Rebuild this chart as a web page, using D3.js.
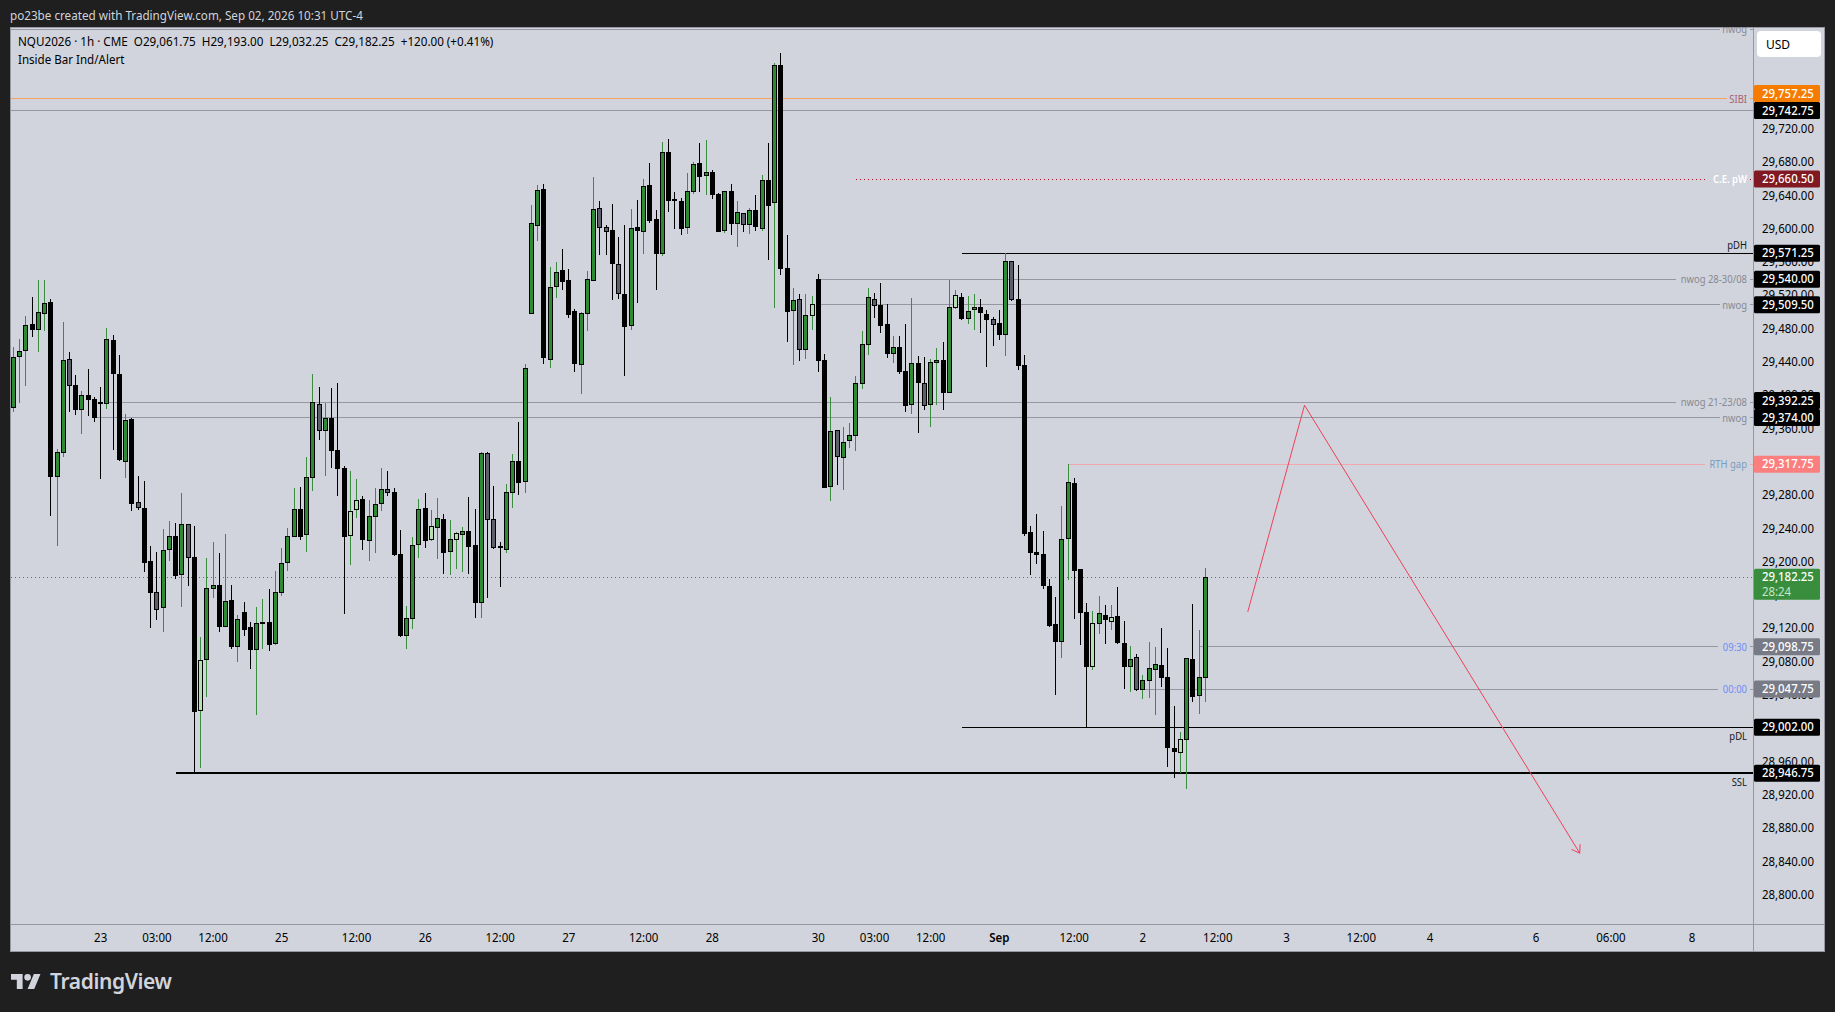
<!DOCTYPE html>
<html><head><meta charset="utf-8">
<script src="https://d3js.org/d3.v7.min.js"></script>
<style>html,body{margin:0;padding:0;background:#1f1f1f;overflow:hidden}svg{display:block}text{font-family:"Noto Sans",sans-serif}</style>
</head><body><svg id="c" width="1835" height="1012"></svg>
<script>
const title = "po23be created with TradingView.com, Sep 02, 2026 10:31 UTC-4";
const legend1 = "NQU2026 · 1h · CME  O29,061.75  H29,193.00  L29,032.25  C29,182.25  +120.00 (+0.41%)";
const legend2 = "Inside Bar Ind/Alert";
const opens = [29386.2,29447,29454.2,29485.8,29479.4,29499,29512.6,29303,29331.8,29443.8,29412.6,29383.4,29400.6,29395.8,29392.2,29390.6,29466.6,29425.8,29321,29372.2,29272.2,29265,29200.6,29164.2,29145.8,29215.4,29231.4,29185.4,29245.8,29206.2,29022.2,29083.4,29168.6,29171.8,29123,29153.8,29099,29140.2,29121.4,29095.4,29127.4,29127.4,29102.6,29163.8,29199.8,29231,29263.8,29233.4,29301.8,29389.8,29358.2,29373,29334.6,29313,29232.2,29263.8,29275.8,29226.2,29255,29270.6,29287.8,29284.2,29209.8,29112.2,29132.6,29221.4,29265,29227.4,29242.2,29251.8,29213,29227.8,29233.4,29237.4,29220.6,29151.8,29331,29251.8,29218.6,29215.4,29284.2,29321.4,29297,29498.6,29604.2,29647.8,29443.8,29531,29551,29538.6,29501.4,29437.8,29499,29538.2,29625,29602.2,29598.6,29557.8,29521.8,29484.2,29602.2,29597,29652.6,29611.8,29570.6,29692.2,29636.2,29633.4,29601.8,29645,29679,29664.2,29668.2,29642.2,29598.2,29645.4,29606.6,29619,29605.4,29622.6,29600.6,29658.6,29631.8,29796.6,29553,29502.2,29515.8,29455.4,29496.2,29539.8,29442.6,29291,29358.6,29325.8,29346.2,29352.2,29414.6,29461.4,29515.8,29508.6,29485.8,29450.6,29458.2,29429.4,29389.8,29439,29415,29389.8,29439.8,29442.6,29403.8,29505.8,29518.2,29493,29503.4,29506.2,29497.8,29491.8,29487,29473.4,29561.4,29515.8,29436.6,29236.2,29212.2,29209.8,29171.4,29125.8,29105,29228.6,29295,29191.8,29140.2,29075,29126.6,29136.6,29129.4,29135.4,29103,29075,29086.2,29047.4,29058.2,29071.4,29076.6,29062.2,28977,28971.8,28987.4,29083.8,29040.2,29061.75];
const highs = [29458.2,29468.2,29495.8,29518.6,29539,29539,29515.8,29335.8,29488.6,29452.6,29424.6,29405.8,29432.2,29398.6,29410.6,29481.4,29473,29449,29378.2,29373.4,29303.8,29297.8,29219.8,29212.6,29240.2,29249.8,29247.4,29283.4,29245.8,29243.8,29110.6,29205.4,29224.6,29211.4,29234.2,29173,29137,29152.2,29128.6,29146.6,29156.2,29168.2,29189.8,29217.4,29241.4,29289.4,29290.6,29326.6,29426.2,29410.6,29391.4,29409.4,29415.4,29315.8,29309.8,29300.2,29279.8,29275,29289.4,29313.4,29309.8,29289.4,29239,29147.8,29230.6,29276.2,29283.4,29263,29277.4,29258.2,29251,29236.6,29242.6,29278.6,29264.2,29332.6,29332.6,29291.8,29224.6,29294.2,29330.2,29368.6,29438.2,29629,29653,29655,29554.6,29560.6,29576.2,29552.2,29504.2,29500.6,29549.8,29662.6,29634.6,29605.8,29630.2,29590.6,29605,29624.2,29635,29660.2,29679.4,29623,29704.6,29708.2,29644.6,29637.4,29667.4,29680.6,29703.4,29707,29671,29644.2,29645.4,29654.2,29633.8,29620.2,29625.4,29641,29665,29703.4,29799.4,29811.4,29593,29529.4,29522.2,29522.2,29519.8,29546.2,29450.2,29398.6,29358.6,29362.6,29367.4,29423.8,29477.4,29529.4,29523.4,29535.4,29510.2,29471.8,29471.8,29486.2,29517.4,29447.8,29446.6,29444.2,29457.4,29464.6,29539,29527.8,29523.4,29519.8,29522.2,29516.2,29503,29494.2,29503,29571.4,29561.4,29557,29449,29243.4,29258.2,29237.8,29180.2,29158.6,29267.8,29318.2,29301.4,29191.8,29151.4,29141.8,29159.8,29149,29149,29170.6,29129.8,29099.8,29090.2,29065,29104.6,29098.6,29121.4,29097.4,29027.8,28996.2,29085,29150.2,29119,29193];
const lows = [29380.6,29391.8,29412.2,29470.6,29452.6,29477.8,29255.8,29219.8,29326.6,29380.6,29377,29354.2,29375.8,29368.6,29300.2,29384.2,29335,29321.8,29301.4,29261.8,29263,29188.6,29121.4,29131,29116.6,29201.8,29180.2,29146.6,29171.8,28946.75,28953.1,29038.6,29157.4,29116.6,29122.6,29096.2,29080.6,29111.8,29072.2,29017,29096.2,29093.8,29101,29159.8,29189.8,29231,29227,29212.6,29285.8,29347,29303.8,29313.4,29279.8,29138.2,29197,29253.4,29215,29201.8,29211.4,29261.8,29279.8,29207.8,29110.6,29096.2,29120.2,29205.4,29217.4,29225.8,29204.2,29186.2,29185,29192.2,29188.6,29186.2,29133.4,29133.4,29157.4,29216.2,29170.6,29211.4,29265.4,29281,29283.4,29498.6,29586.2,29438.2,29433.4,29517.4,29527,29493.8,29428.6,29402.2,29477.8,29538.2,29569,29569,29515,29516.2,29423.8,29479,29511.4,29570.2,29607.4,29527,29567.8,29620.6,29600.2,29593,29594.2,29642.2,29644.6,29641,29636.2,29598.2,29595.4,29593,29578.6,29596.6,29594.2,29597.8,29597.8,29563,29505.4,29545,29464.6,29437,29441.8,29444.2,29479,29428.6,29289.8,29273.8,29293,29287,29337.4,29333.8,29408.2,29449,29493.4,29475.4,29445.4,29439,29426.6,29380.6,29378.2,29355.4,29383,29362.6,29389,29383,29403.8,29504.2,29491,29486.2,29479,29475.4,29434.6,29459.8,29467,29447.8,29513.8,29431,29231.8,29185,29198.2,29168.2,29122.6,29041,29085.4,29179,29132.2,29101,29002.2,29071,29114.2,29102.2,29119,29102.2,29048.2,29044.6,29045.8,29036.2,29037.4,29017,29050.6,28954.6,28941.4,28947.4,28928.2,29032.6,29018.2,29032.25];
const closes = [29446.2,29453.4,29484.6,29479.4,29500.2,29511,29303,29332.2,29442.6,29412.2,29383.4,29400.6,29395.4,29373.8,29390.6,29467.8,29426.6,29323.4,29370.6,29271.8,29265.8,29199.8,29163.8,29143.4,29214.6,29231.4,29184.2,29245.8,29205.8,29021,29082.6,29169,29171.8,29122.6,29153.4,29098.6,29131.8,29120.2,29095,29127,29128.2,29101,29164.2,29199,29231.4,29263.8,29231,29302.2,29392.2,29358.2,29373,29334.2,29312.6,29231.8,29261.4,29274.6,29227.4,29255.4,29269.8,29287.8,29283.8,29210.2,29112.2,29133,29220.6,29263.8,29226.2,29243.4,29253,29211.8,29227.8,29235,29237.4,29219,29151.8,29331,29251.8,29217.8,29217.8,29284.2,29321.4,29295.8,29433,29607,29646.6,29445.8,29530.2,29548.2,29538.2,29497.4,29438.6,29499,29539.8,29623.8,29601.8,29597,29558.6,29522.6,29483,29601,29598.2,29651.4,29611,29570.6,29692.2,29635,29635.4,29600.6,29645.4,29677.8,29663,29668.2,29641.4,29598.2,29645.4,29606.6,29620.2,29605.4,29622.6,29603,29658.6,29628.2,29796.6,29552.6,29501,29514.6,29455.4,29496.6,29509.8,29442.2,29289.8,29357.4,29327,29344.2,29352.6,29415,29461.8,29518.2,29508.2,29484.2,29450.6,29458.2,29429,29388.2,29439,29415.8,29388.2,29440.2,29442.6,29403.8,29506.2,29520.6,29492.6,29501.4,29506.2,29499.8,29491.4,29485.4,29473.4,29561.4,29515.4,29436.2,29234.2,29211.8,29209.4,29172.2,29125,29105,29227.8,29296.2,29191,29139.8,29075,29127,29139,29131.4,29134.2,29103.8,29075,29083.8,29047.4,29058.6,29073,29077.8,29061.8,28977.8,28973,28987.8,29085,29039,29062.2,29182.25];
const insideBars = [9,20,23,28,30,49,54,55,60,67,71,76,77,94,95,97,117,126,128,132,138,146,151,157,160,173,176,180,187];
const priceTicks = [29720,29680,29640,29600,29560,29520,29480,29440,29400,29360,29320,29280,29240,29200,29160,29120,29080,29040,29000,28960,28920,28880,28840,28800];
const timeTickBars = [14,23,32,43,55,66,78,89,101,112,129,138,147,158,170,181,193,204,216,227,244,256,269];
const timeTickLabels = ["23","03:00","12:00","25","12:00","26","12:00","27","12:00","28","30","03:00","12:00","Sep","12:00","2","12:00","3","12:00","4","6","06:00","8"];
const levelPrices = [29757.25,29742.75,29660.5,29571.25,29540,29509.5,29392.25,29374,29317.75,29098.75,29047.75,29002,28946.75];
const levelNames = ["SIBI","","C.E. pW","pDH","nwog 28-30/08","nwog","nwog 21-23/08","nwog","RTH gap","09:30","00:00","pDL","SSL"];
const levelStartBars = [-1,-1,135,152,129,129,15,13,169,190,181,152,26];
const currentPrice = 29182.25, countdown = "28:24";
const topNwogPrice = 29840.5;
const drawingBars = [197.8,206.9,251];
const drawingPrices = [29140.5,29388.8,28850.7];

const svg = d3.select("#c");
const L=10, T=27, AX=1753, R=1825, TA=924, B=952;
const x = d3.scaleLinear().domain([0,191]).range([13.33,1205.3]);
const y = d3.scaleLinear().domain([29757.25,28946.75]).range([98.5,773.2]);
const fmt = d3.format(",.2f");
const snap = v => Math.floor(v)+0.5;
function squeeze(sel,f){ sel.each(function(){ const w=this.getComputedTextLength()*f; this.setAttribute("textLength",w); this.setAttribute("lengthAdjust","spacingAndGlyphs"); }); return sel; }

svg.append("rect").attr("width",1835).attr("height",1012).attr("fill","#1f1f1f");
squeeze(svg.append("text").attr("x",10).attr("y",19.5).attr("fill","#d1d4dc").attr("font-size",13).text(title),0.898);
svg.append("rect").attr("x",L).attr("y",T).attr("width",R-L).attr("height",B-T).attr("fill","#d1d4dc");

// level lines
const styleFor = {
 "SIBI":{c:"#f4a460",t:"#a8606c",tag:"#f57c00"},
 "C.E. pW":{c:"#b01020",t:"#ffffff",tag:"#801922",dash:"1 3",bold:1},
 "pDH":{c:"#000",t:"#131722",tag:"#000",above:1},
 "nwog 28-30/08":{c:"#9598a1",t:"#868993",tag:"#000"},
 "nwog":{c:"#9598a1",t:"#868993",tag:"#000"},
 "nwog 21-23/08":{c:"#9598a1",t:"#868993",tag:"#000"},
 "RTH gap":{c:"#f0a8ac",t:"#7a9cc0",tag:"#fc7f7f"},
 "09:30":{c:"#9598a1",t:"#6c8ef5",tag:"#787b86"},
 "00:00":{c:"#9598a1",t:"#6c8ef5",tag:"#787b86"},
 "pDL":{c:"#000",t:"#131722",tag:"#000",below:1},
 "SSL":{c:"#000",t:"#131722",tag:"#000",below:1,w:2},
 "":{c:"#9598a1",t:"#868993",tag:"#000"}
};
const gapR = {"SIBI":1727,"C.E. pW":1705,"pDH":AX,"nwog 28-30/08":1676,"nwog":1720,"nwog 21-23/08":1676,"RTH gap":1705,"09:30":1718,"00:00":1718,"pDL":AX,"SSL":AX,"":AX};
function hline(sel,x1,x2,py,st){
 const w=st.w||1, yy = w==2?Math.round(py):snap(py);
 sel.append("line").attr("x1",x1).attr("x2",x2).attr("y1",yy).attr("y2",yy).attr("stroke",st.c).attr("stroke-width",w).attr("stroke-dasharray",st.dash||null);
}
const lv = svg.append("g").attr("shape-rendering","crispEdges");
levelPrices.forEach((p,i)=>{
 const n=levelNames[i], st=styleFor[n], px=y(p);
 const sb=levelStartBars[i];
 const xs = sb<0 ? L+1 : x(sb);
 hline(lv,xs,gapR[n],px,st);
 if(gapR[n]<AX) hline(lv,1750,AX,px,st);
});
// top nwog
hline(lv,L+1,1720,y(topNwogPrice),styleFor["nwog"]); hline(lv,1750,AX,y(topNwogPrice),styleFor["nwog"]);
// current price
hline(lv,L+1,AX,y(currentPrice),{c:"#388e3c",dash:"1 3"});

// candles
const insideSet = new Set(insideBars);
const bars = d3.range(opens.length);
const g = svg.append("g").attr("shape-rendering","crispEdges");
const wickCol = i => closes[i]>=opens[i] ? "#388e3c" : "#000";
g.selectAll(".w").data(bars).join("line").attr("class","w").attr("x1",i=>snap(x(i))).attr("x2",i=>snap(x(i)))
 .attr("y1",i=>y(highs[i])).attr("y2",i=>y(lows[i])).attr("stroke",wickCol);
g.selectAll(".b").data(bars).join("rect").attr("class","b")
 .attr("x",i=>snap(x(i))-2).attr("width",4)
 .attr("y",i=>snap(y(Math.max(opens[i],closes[i]))))
 .attr("height",i=>Math.max(1,Math.round(Math.abs(y(opens[i])-y(closes[i])))))
 .attr("stroke","#000").attr("stroke-width",1)
 .attr("fill",i=>{const up=closes[i]>=opens[i];const ins=insideSet.has(i);
   return up?(ins?"#b5e0b2":"#2e8b34"):(ins?"#5d606b":"#000");});

// drawing
const dl = d3.line().x((d,i)=>x(drawingBars[i])).y((d,i)=>y(drawingPrices[i]));
svg.append("path").attr("d",dl(drawingBars)).attr("fill","none").attr("stroke","#f0405a").attr("stroke-width",1);
(function(){const n=drawingBars.length-1;const ex=x(drawingBars[n]),ey=y(drawingPrices[n]);
 const px=x(drawingBars[n-1]),py=y(drawingPrices[n-1]);const a=Math.atan2(ey-py,ex-px);
 [a+2.55,a-2.55].forEach(t=>svg.append("line").attr("x1",ex).attr("y1",ey).attr("x2",ex+9*Math.cos(t)).attr("y2",ey+9*Math.sin(t)).attr("stroke","#f0405a"));})();

// frame
const border="#9598a1";
[[L,T+.5,R,T+.5],[L,TA+.5,R,TA+.5],[AX+.5,T,AX+.5,B],[L,B-.5,R,B-.5],[L+.5,T,L+.5,B],[R-.5,T,R-.5,B]].forEach(a=>
 svg.append("line").attr("x1",a[0]).attr("y1",a[1]).attr("x2",a[2]).attr("y2",a[3]).attr("stroke",border));

// legend
squeeze(svg.append("text").attr("x",18).attr("y",46).attr("fill","#000").attr("font-size",13).style("white-space","pre").text(legend1),0.896);
squeeze(svg.append("text").attr("x",18).attr("y",63.5).attr("fill","#000").attr("font-size",13).text(legend2),0.89);

// level labels
function levelLabel(n,py,st){
 squeeze(svg.append("text").attr("x",1747).attr("y",py).attr("text-anchor","end").attr("fill",st.t).attr("font-size",11).attr("font-weight",st.bold?600:null).text(n),0.86);
}
levelPrices.forEach((p,i)=>{
 const n=levelNames[i]; if(!n) return; const st=styleFor[n], px=y(p);
 levelLabel(n, st.above? px-4 : st.below? px+12.5 : px+4, st);
});
levelLabel("nwog",y(topNwogPrice)+4,styleFor["nwog"]);

// price axis
squeeze(svg.append("g").selectAll("text").data(priceTicks).join("text")
 .attr("x",1762).attr("y",d=>y(d)+3.5).attr("fill","#000").attr("font-size",13).text(d=>fmt(d)),0.88);
svg.append("rect").attr("x",1757).attr("y",31).attr("width",64).attr("height",26).attr("rx",4).attr("fill","#fff");
svg.append("text").attr("x",1766).attr("y",48.5).attr("fill","#000").attr("font-size",12).text("USD");
// tags are pushed upward when they would overlap the tag below them
const tagY = levelPrices.map(p=>y(p));
for(let i=tagY.length-2;i>=0;i--){ if(tagY[i]+17>tagY[i+1]) tagY[i]=tagY[i+1]-17; }
function tag(cy,fill,txt,h){
 svg.append("rect").attr("x",1754).attr("y",cy-8.5).attr("width",66).attr("height",h||17).attr("rx",1.5).attr("fill",fill);
 squeeze(svg.append("text").attr("x",1762).attr("y",cy+4).attr("fill","#fff").attr("font-size",13).attr("font-weight",500).text(txt),0.875);
}
levelPrices.forEach((p,i)=>tag(tagY[i],styleFor[levelNames[i]].tag,fmt(p)));
tag(y(currentPrice),"#388e3c",fmt(currentPrice),31);
squeeze(svg.append("text").attr("x",1762).attr("y",y(currentPrice)+18.5).attr("fill","#c8e6c9").attr("font-size",13).text(countdown),0.875);

// time axis
squeeze(svg.append("g").selectAll("text").data(timeTickBars).join("text")
 .attr("x",d=>x(d)).attr("y",942).attr("text-anchor","middle").attr("fill","#000").attr("font-size",12.5)
 .attr("font-weight",(d,i)=>timeTickLabels[i]=="Sep"?600:null).text((d,i)=>timeTickLabels[i]),0.92);

// logo
const lg=svg.append("g").attr("transform","translate(11,970.7) scale(.83)").attr("fill","#d1d4dc");
lg.append("path").attr("d","M14 22H7V11H0V4h14v18zM28 22h-8l7.5-18h8L28 22z");
lg.append("circle").attr("cx",20).attr("cy",8).attr("r",4);
svg.append("text").attr("x",50).attr("y",989).attr("fill","#d1d4dc").attr("font-size",21).attr("font-weight",600).attr("letter-spacing","-0.4").text("TradingView");
</script></body></html>
